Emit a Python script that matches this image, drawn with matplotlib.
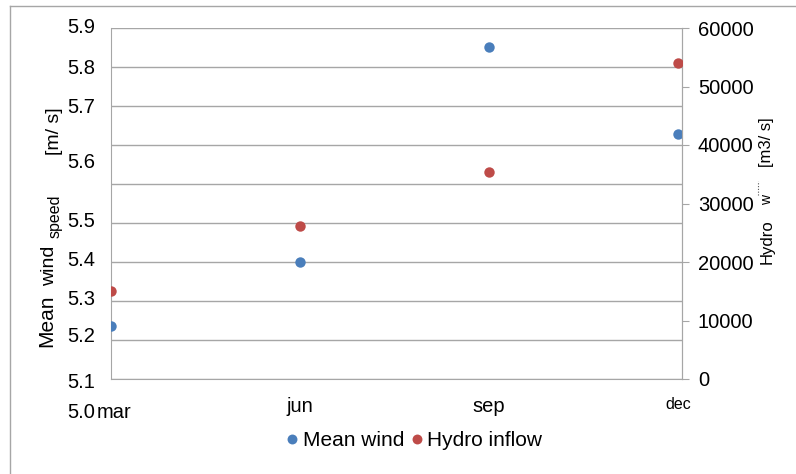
import matplotlib
matplotlib.use("Agg")
import matplotlib.pyplot as plt
import matplotlib.transforms as mtransforms
from matplotlib.lines import Line2D

plt.rcParams["font.family"] = ["Liberation Sans", "DejaVu Sans"]

months = ["mar", "jun", "sep", "dec"]
mean_wind = [5.136, 5.301, 5.851, 5.628]          # m/s
hydro_inflow = [15050, 26100, 35400, 54100]       # m3/s

wind_grid = [5.0, 5.1, 5.2, 5.3, 5.4, 5.5, 5.6, 5.7, 5.8, 5.9]
wind_labels = ["5.0", "5.1", "5.2", "5.3", "5.4", "5.5", "5.6", "5.7", "5.8", "5.9"]
# where the left labels actually sit in the source picture (it is a bit garbled)
wind_label_pos = [4.913, 4.990, 5.108, 5.205, 5.305, 5.405, 5.554, 5.697, 5.795, 5.9]
hydro_ticks = [0, 10000, 20000, 30000, 40000, 50000, 60000]

blue = "#4a7ebb"
red = "#be4b48"
grid_c = "#a6a6a6"
fs = 14.5

fig = plt.figure(figsize=(7.96, 4.74), dpi=100)
ax = fig.add_axes([111 / 796, 1 - 379 / 474, 571 / 796, 351 / 474])
ax2 = ax.twinx()

x = range(len(months))
ax.plot(x, mean_wind, "o", color=blue, ms=7.5, mec="none", label="Mean wind", zorder=3)
ax2.plot(x, hydro_inflow, "o", color=red, ms=7.5, mec="none", label="Hydro inflow", zorder=3)

ax.set_xlim(0, 3.02)
ax.set_ylim(5.0, 5.9)
ax2.set_ylim(0, 60000)

# left axis: gridlines only, labels drawn where the source put them
ax.set_yticks(wind_grid)
ax.set_yticklabels([])
ax.tick_params(axis="y", length=0)
ax.grid(axis="y", color=grid_c, lw=1)
ax.set_axisbelow(True)
for lab, pos in zip(wind_labels, wind_label_pos):
    ax.text(-0.028, pos, lab, transform=ax.get_yaxis_transform(), ha="right",
            va="center", fontsize=fs, clip_on=False)

ax2.set_yticks(hydro_ticks)
ax2.set_yticklabels([str(v) for v in hydro_ticks])
ax2.tick_params(axis="y", direction="out", length=5, color=grid_c, pad=6.5, labelsize=fs)

ax.set_xticks(list(x))
ax.set_xticklabels(months)
ax.tick_params(axis="x", length=0, pad=13, labelsize=fs)
xl = ax.get_xticklabels()
xl[0].set_transform(xl[0].get_transform() + mtransforms.ScaledTranslation(0.03, -0.06, fig.dpi_scale_trans))
xl[3].set_fontsize(11.5)

for a in (ax, ax2):
    a.spines["top"].set_visible(False)
    for s in ("left", "right", "bottom"):
        a.spines[s].set_color(grid_c)
ax2.spines["left"].set_visible(False)
ax2.spines["bottom"].set_visible(False)

# axis titles, broken up like in the source
for txt, xp, yp, size in [("Mean", 47, 321, 15), ("wind", 50, 266, 14),
                          ("speed", 55, 216, 11.5), ("[m/ s]", 55, 131, 14)]:
    fig.text(xp / 796, 1 - yp / 474, txt, rotation=90, ha="center", va="center", fontsize=size)
for txt, xp, yp, size in [("Hydro", 767, 242, 12), ("w", 767, 200, 10), ("[m3/ s]", 767, 142, 12)]:
    fig.text(xp / 796, 1 - yp / 474, txt, rotation=90, ha="center", va="center", fontsize=size)
fig.add_artist(Line2D([758 / 796, 758 / 796], [1 - 195 / 474, 1 - 181 / 474],
                      color="#555555", lw=0.8, ls=(0, (1, 1.5))))

h1, l1 = ax.get_legend_handles_labels()
h2, l2 = ax2.get_legend_handles_labels()
fig.legend(h1 + h2, l1 + l2, loc="center", bbox_to_anchor=(414 / 796, 1 - 441 / 474), ncol=2,
           frameon=False, fontsize=15, handletextpad=0.2, columnspacing=0.3, handlelength=0.6,
           markerscale=0.95)

# outer frame (top and left edges only visible in the source)
fig.add_artist(Line2D([10 / 796, 1], [1 - 6 / 474, 1 - 6 / 474], color=grid_c, lw=1))
fig.add_artist(Line2D([10 / 796, 10 / 796], [0, 1 - 6 / 474], color=grid_c, lw=1))

fig.savefig("out.png", dpi=100)
